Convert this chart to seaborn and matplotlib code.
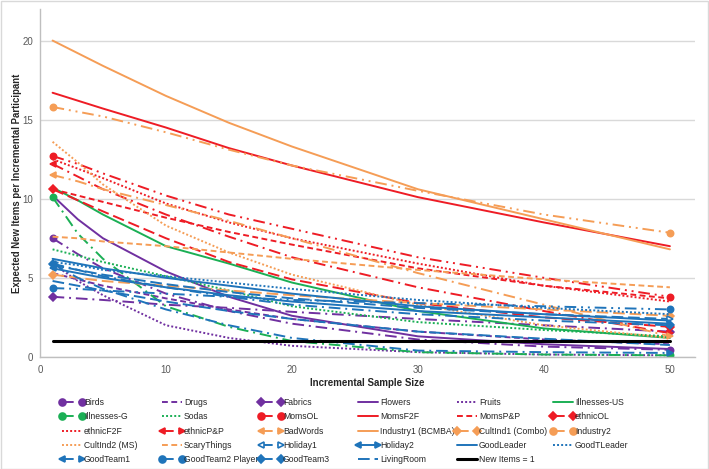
import matplotlib
matplotlib.use('Agg')
import matplotlib.pyplot as plt
import seaborn as sns
from matplotlib.lines import Line2D
from matplotlib.legend_handler import HandlerBase
from matplotlib.patches import Rectangle

# values at a few sample sizes
sample_size = [1, 3, 5, 10, 15, 20, 30, 40, 50]

birds = [7.5, 6.5, 5.6, 4.0, 2.9, 2.1, 1.1, 0.65, 0.45]
drugs = [5.3, 4.9, 4.5, 3.7, 3.0, 2.4, 1.6, 1.1, 0.8]
fabrics = [3.8, 3.7, 3.6, 3.3, 3.1, 2.85, 2.4, 2.0, 1.6]
flowers = [10.2, 8.7, 7.5, 5.4, 3.8, 2.6, 1.3, 0.8, 0.5]
fruits = [5.9, 4.8, 3.9, 2.0, 1.2, 0.7, 0.3, 0.15, 0.1]
illnesses_us = [10.7, 9.9, 9.0, 7.0, 5.9, 4.7, 2.9, 1.8, 1.2]
illnesses_g = [10.1, 7.8, 6.2, 3.2, 1.9, 1.0, 0.3, 0.15, 0.1]
sodas = [6.8, 6.4, 6.0, 5.1, 4.2, 3.2, 2.2, 1.7, 1.3]
moms_ol = [12.7, 12.2, 11.6, 10.2, 9.0, 8.1, 6.3, 5.0, 3.8]
moms_f2f = [16.7, 16.2, 15.7, 14.5, 13.2, 12.1, 10.1, 8.5, 7.0]
moms_pp = [10.6, 10.2, 9.8, 8.8, 7.9, 7.1, 5.6, 4.5, 3.7]
ethnic_ol = [10.6, 9.9, 9.2, 7.5, 6.0, 4.9, 3.4, 2.5, 1.9]
ethnic_f2f = [12.5, 11.9, 11.3, 9.7, 8.5, 7.5, 5.9, 4.5, 3.5]
ethnic_pp = [12.2, 11.4, 10.6, 9.0, 7.6, 6.3, 4.4, 2.9, 1.5]
bad_words = [11.5, 11.1, 10.6, 9.6, 8.6, 7.5, 5.3, 3.3, 1.3]
industry1 = [20.0, 19.2, 18.4, 16.5, 14.8, 13.3, 10.6, 8.7, 6.8]
cult_ind1 = [5.2, 5.0, 4.8, 4.5, 4.2, 3.9, 3.4, 3.0, 2.6]
industry2 = [15.8, 15.5, 15.2, 14.2, 13.1, 12.1, 10.5, 9.0, 7.85]
cult_ind2 = [13.6, 12.3, 10.9, 8.3, 6.6, 5.2, 3.3, 2.0, 1.2]
scary_things = [7.6, 7.5, 7.3, 7.0, 6.6, 6.2, 5.5, 4.9, 4.4]
holiday1 = [5.8, 5.5, 5.2, 4.6, 4.1, 3.7, 3.1, 2.7, 2.4]
holiday2 = [5.6, 5.3, 5.0, 4.4, 3.9, 3.5, 2.9, 2.5, 2.1]
good_leader = [6.2, 5.9, 5.6, 5.0, 4.5, 4.0, 3.2, 2.7, 2.3]
good_t_leader = [6.0, 5.8, 5.5, 5.1, 4.7, 4.3, 3.6, 3.1, 2.7]
good_team1 = [5.9, 5.0, 4.3, 3.0, 2.0, 1.2, 0.4, 0.3, 0.25]
good_team2 = [4.35, 4.3, 4.2, 4.0, 3.8, 3.6, 3.4, 3.2, 3.0]
good_team3 = [5.9, 5.5, 5.1, 4.4, 3.8, 3.3, 2.7, 2.3, 2.0]
living_room = [4.8, 4.5, 4.2, 3.5, 2.9, 2.4, 1.6, 1.15, 0.75]
new_items = [1, 1, 1, 1, 1, 1, 1, 1, 1]

PURPLE = '#7030A0'
GREEN = '#1BAF55'
RED = '#EE1C25'
ORANGE = '#F59D56'
BLUE = '#1F74BA'

SOLID = '-'
DASH = (0, (3, 1.8))
DOT = (0, (1, 1.1))
LDASH = (0, (6, 2.5))
LDD = (0, (6, 2.5, 1, 2.5))
LDDD = (0, (6, 2.5, 1, 2.5, 1, 2.5))

# label, values, color, linestyle, start marker, end marker, filled
series = [
    ('Birds', birds, PURPLE, LDD, 'o', 'o', True),
    ('Drugs', drugs, PURPLE, DASH, None, None, True),
    ('Fabrics', fabrics, PURPLE, LDD, 'D', 'D', True),
    ('Flowers', flowers, PURPLE, SOLID, None, None, True),
    ('Fruits', fruits, PURPLE, DOT, None, None, True),
    ('Illnesses-US', illnesses_us, GREEN, SOLID, None, None, True),
    ('Illnesses-G', illnesses_g, GREEN, LDD, 'o', 'o', True),
    ('Sodas', sodas, GREEN, DOT, None, None, True),
    ('MomsOL', moms_ol, RED, LDDD, 'o', 'o', True),
    ('MomsF2F', moms_f2f, RED, SOLID, None, None, True),
    ('MomsP&P', moms_pp, RED, DASH, None, None, True),
    ('ethnicOL', ethnic_ol, RED, LDASH, 'D', 'D', True),
    ('ethnicF2F', ethnic_f2f, RED, DOT, None, None, True),
    ('ethnicP&P', ethnic_pp, RED, LDD, '<', '>', True),
    ('BadWords', bad_words, ORANGE, LDD, '<', '>', True),
    ('Industry1 (BCMBA)', industry1, ORANGE, SOLID, None, None, True),
    ('CultInd1 (Combo)', cult_ind1, ORANGE, LDASH, 'D', 'D', True),
    ('Industry2', industry2, ORANGE, LDDD, 'o', 'o', True),
    ('CultInd2 (MS)', cult_ind2, ORANGE, DOT, None, None, True),
    ('ScaryThings', scary_things, ORANGE, DASH, None, None, True),
    ('Holiday1', holiday1, BLUE, LDASH, '<', '>', False),
    ('Holiday2', holiday2, BLUE, SOLID, '<', '>', True),
    ('GoodLeader', good_leader, BLUE, SOLID, None, None, True),
    ('GoodTLeader', good_t_leader, BLUE, DOT, None, None, True),
    ('GoodTeam1', good_team1, BLUE, LDD, '<', '>', True),
    ('GoodTeam2 Player', good_team2, BLUE, LDDD, 'o', 'o', True),
    ('GoodTeam3', good_team3, BLUE, LDD, 'D', 'D', True),
    ('LivingRoom', living_room, BLUE, LDASH, None, None, True),
    ('New Items = 1', new_items, 'black', SOLID, None, None, True),
]

style_by_label = {s[0]: s for s in series}


def line_width(label):
    return 2.2 if label == 'New Items = 1' else 1.4


def marker_size(m):
    return 3.6 if m == 'D' else 4.6


class EndsHandler(HandlerBase):
    # legend entry: line with the series' start/end markers at its two ends
    def create_artists(self, legend, orig_handle, xdescent, ydescent,
                       width, height, fontsize, trans):
        label, _, color, ls, m0, m1, filled = style_by_label[orig_handle.get_label()]
        y = (height - ydescent) / 2
        x0, x1 = -xdescent, width - xdescent
        arts = [Line2D([x0, x1], [y, y], color=color, lw=line_width(label), linestyle=ls)]
        for x, m in ((x0, m0), (x1, m1)):
            if m:
                arts.append(Line2D([x], [y], marker=m, color=color, ms=marker_size(m) + 0.4,
                                   markerfacecolor=color if filled else 'white',
                                   markeredgewidth=1.2, linestyle='none'))
        for a in arts:
            a.set_transform(trans)
        return arts


sns.set_style('white')
plt.rcParams['font.family'] = ['Liberation Sans', 'DejaVu Sans']

W, H = 709, 469
fig = plt.figure(figsize=(W / 100, H / 100), dpi=100)
ax = fig.add_axes([0.0564, 0.239, 0.924, 0.742])

for label, vals, color, ls, m0, m1, filled in series:
    sns.lineplot(x=sample_size, y=vals, ax=ax, color=color, linestyle=ls,
                 lw=line_width(label), errorbar=None, legend=False)
    for xi, m in ((0, m0), (-1, m1)):
        if m:
            ax.plot([sample_size[xi]], [vals[xi]], marker=m, color=color,
                    ms=marker_size(m), markerfacecolor=color if filled else 'white',
                    markeredgewidth=1.1, linestyle='none')

ax.set_xlim(0, 52)
ax.set_ylim(0, 22)
ax.set_xticks([0, 10, 20, 30, 40, 50])
ax.set_yticks([0, 5, 10, 15, 20])
ax.yaxis.grid(True, color='#D9D9D9', lw=1)
ax.set_axisbelow(True)
for side in ['top', 'right']:
    ax.spines[side].set_visible(False)
for side in ['left', 'bottom']:
    ax.spines[side].set_color('#BFBFBF')
    ax.spines[side].set_linewidth(1)
ax.tick_params(axis='x', length=4, color='#BFBFBF', labelsize=7, labelcolor='#595959', pad=2)
ax.tick_params(axis='y', length=0, labelsize=7, labelcolor='#595959', pad=5)

ax.set_xlabel('Incremental Sample Size', fontsize=7, fontweight='bold', labelpad=2)
ax.set_ylabel('Expected New Items per Incremental Participant', fontsize=6.9,
              fontweight='bold')
ax.yaxis.set_label_coords(-0.028, 0.5)

# Excel-style legend: six equally spaced columns, entries read across rows
ncol = 6
col_left_px = [62, 162, 261, 358, 457, 553]
for col in range(ncol):
    idx = list(range(col, len(series), ncol))
    handles = [Line2D([], [], label=series[i][0]) for i in idx]
    fig.legend(handles, [series[i][0] for i in idx],
               handler_map={Line2D: EndsHandler()},
               loc='upper left', bbox_to_anchor=(col_left_px[col] / W, 1 - 398 / H),
               frameon=False, borderpad=0, borderaxespad=0,
               fontsize=6.2, handlelength=2.3, handletextpad=0.25,
               labelspacing=0.62)

fig.patches.append(Rectangle((0.001, 0.001), 0.997, 0.997, transform=fig.transFigure,
                             fill=False, edgecolor='#D9D9D9', lw=1))

fig.savefig('out.png', dpi=100)
